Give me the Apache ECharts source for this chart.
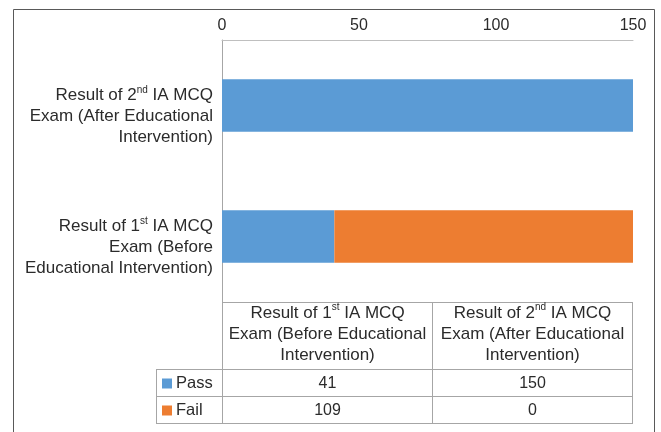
<!DOCTYPE html>
<html><head><meta charset="utf-8">
<script src="https://cdn.jsdelivr.net/npm/echarts@6/dist/echarts.min.js"></script>
<style>html,body{margin:0;padding:0;background:#fff}#c{width:661px;height:432px}</style>
</head><body><div id="c"></div>
<script>
// ---- data ----
const categories = ["Result of 1st IA MCQ Exam (Before Educational Intervention)", "Result of 2nd IA MCQ Exam (After Educational Intervention)"];
const axisLabelLines = [
  ["Result of 1st IA MCQ", "Exam (Before", "Educational Intervention)"],
  ["Result of 2nd IA MCQ", "Exam (After Educational", "Intervention)"]
];
const tableHeaderLines = [
  ["Result of 1st IA MCQ", "Exam (Before Educational", "Intervention)"],
  ["Result of 2nd IA MCQ", "Exam (After Educational", "Intervention)"]
];
const seriesNames = ["Pass", "Fail"];
const passValues = [41, 150];
const failValues = [109, 0];
const xTicks = [0, 50, 100, 150];
const colors = ["#5B9BD5", "#ED7D31"];

// ---- layout ----
const FONT = "Liberation Sans, Arial, sans-serif";
const TXT = "#2b2b2b";
const LINE = "#a6a6a6";
const G = {left: 222, right: 28, top: 40, bottom: 130};

function sup(s) { return s.replace(/(\d)(st|nd|rd|th)\b/g, "$1{sup|$2}"); }
const rich = {
  sup: {fontSize: 10, lineHeight: 13, verticalAlign: 'top', fontFamily: FONT, color: TXT}
};

const chart = echarts.init(document.getElementById('c'), null, {renderer: 'canvas'});
const allSeries = [passValues, failValues];

function build() {
  const W = 661, H = 432;
  const pl = G.left, pr = W - G.right, pb = H - G.bottom;
  const tTop = pb, hBot = 369, r1 = 396, r2 = 423, legL = 156;
  const mid = 432, tRight = 632;
  const colX = [pl, mid, tRight];
  const els = [];
  const line = (x1, y1, x2, y2, c, w) => els.push({type: 'line', silent: true,
    shape: {x1, y1, x2, y2}, style: {stroke: c || LINE, lineWidth: w || 1}});
  // outer frame
  els.push({type: 'rect', silent: true, shape: {x: 13.5, y: 9.5, width: 641, height: 440},
    style: {fill: null, stroke: '#595959', lineWidth: 1}});
  // table grid
  line(pl, tTop + 0.5, tRight, tTop + 0.5);
  [hBot, r1, r2].forEach(y => line(legL, y + 0.5, tRight, y + 0.5));
  line(legL + 0.5, hBot, legL + 0.5, r2 + 1);
  colX.forEach(x => line(x + 0.5, tTop, x + 0.5, r2 + 1));
  // header text
  categories.forEach((c, i) => {
    els.push({type: 'text', silent: true,
      style: {x: (colX[i] + colX[i + 1]) / 2 + 0.5, y: 334, align: 'center', verticalAlign: 'middle',
        text: tableHeaderLines[i].map(sup).join('\n'), rich,
        fontSize: 17, lineHeight: 21, fontFamily: FONT, fill: TXT}});
  });
  // rows
  const rowT = [hBot, r1], rowB = [r1, r2];
  seriesNames.forEach((n, s) => {
    const cy = (rowT[s] + rowB[s]) / 2 + 1;
    els.push({type: 'rect', silent: true, shape: {x: 162, y: cy - 5, width: 10, height: 10},
      style: {fill: colors[s]}});
    els.push({type: 'text', silent: true, style: {x: 176, y: cy, align: 'left', verticalAlign: 'middle',
      text: n, fontSize: 16.5, fontFamily: FONT, fill: TXT}});
    allSeries[s].forEach((v, i) => {
      els.push({type: 'text', silent: true, style: {x: (colX[i] + colX[i + 1]) / 2 + 0.5, y: cy,
        align: 'center', verticalAlign: 'middle', text: String(v), fontSize: 16, fontFamily: FONT, fill: TXT}});
    });
  });
  return els;
}

const option = {
  animation: false,
  backgroundColor: '#fff',
  grid: {left: G.left, right: G.right, top: G.top, bottom: G.bottom, containLabel: false},
  xAxis: {
    type: 'value', position: 'top', min: xTicks[0], max: xTicks[xTicks.length - 1],
    interval: xTicks[1] - xTicks[0],
    axisLine: {show: true, lineStyle: {color: '#bfbfbf', width: 1}},
    axisTick: {show: false},
    splitLine: {show: false},
    axisLabel: {fontSize: 16, color: TXT, fontFamily: FONT, margin: 6}
  },
  yAxis: {
    type: 'category', data: categories,
    axisLine: {show: true, lineStyle: {color: LINE, width: 1}},
    axisTick: {show: false},
    axisLabel: {
      fontSize: 17, lineHeight: 21, color: TXT, fontFamily: FONT, margin: 9, align: 'right',
      padding: [22, 0, 0, 0],
      formatter: (v, i) => axisLabelLines[i].map(sup).join('\n'),
      rich: rich
    }
  },
  series: seriesNames.map((n, s) => ({
    name: n, type: 'bar', stack: 'total', data: allSeries[s], barWidth: '40%',
    itemStyle: {color: colors[s]}
  })),
  graphic: build()
};
chart.setOption(option);
</script></body></html>
